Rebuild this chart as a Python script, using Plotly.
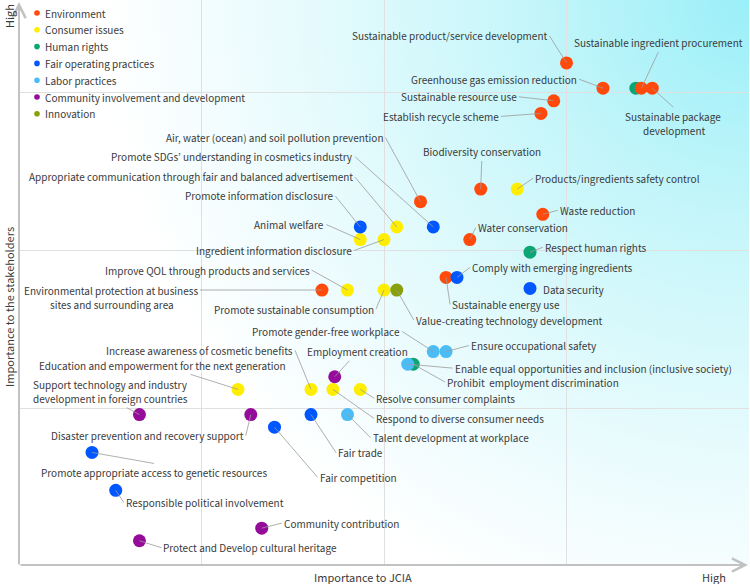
import base64
import plotly.graph_objects as go

# ---------------- data ----------------
categories = ["Environment", "Consumer issues", "Human rights", "Fair operating practices",
              "Labor practices", "Community involvement and development", "Innovation"]

env_names = ["Sustainable product/service development", "Greenhouse gas emission reduction",
             "Sustainable ingredient procurement", "Sustainable package development",
             "Sustainable resource use", "Establish recycle scheme",
             "Air, water (ocean) and soil pollution prevention", "Biodiversity conservation",
             "Waste reduction", "Water conservation", "Sustainable energy use",
             "Environmental protection at business sites and surrounding area"]
env_x = [3.00, 3.20, 3.41, 3.47, 2.93, 2.86, 2.20, 2.53, 2.87, 2.47, 2.34, 1.66]
env_y = [3.19, 3.03, 3.03, 3.03, 2.95, 2.87, 2.31, 2.39, 2.23, 2.07, 1.83, 1.75]

con_names = ["Products/ingredients safety control",
             "Appropriate communication through fair and balanced advertisement",
             "Animal welfare", "Ingredient information disclosure",
             "Improve QOL through products and services", "Promote sustainable consumption",
             "Education and empowerment for the next generation",
             "Increase awareness of cosmetic benefits", "Respond to diverse consumer needs",
             "Resolve consumer complaints"]
con_x = [2.73, 2.07, 1.87, 2.00, 1.80, 2.00, 1.20, 1.60, 1.72, 1.87]
con_y = [2.39, 2.15, 2.07, 2.07, 1.75, 1.75, 1.12, 1.12, 1.12, 1.12]

hr_names = ["", "Respect human rights", "Prohibit  employment discrimination"]
hr_x = [3.38, 2.80, 2.16]
hr_y = [3.03, 1.99, 1.28]

fop_names = ["Promote information disclosure",
             "Promote SDGs\u2019 understanding in cosmetics industry",
             "Comply with emerging ingredients", "Data security", "Fair trade",
             "Fair competition", "Promote appropriate access to genetic resources",
             "Responsible political involvement"]
fop_x = [1.87, 2.27, 2.40, 2.80, 1.60, 1.40, 0.40, 0.53]
fop_y = [2.15, 2.15, 1.83, 1.76, 0.96, 0.88, 0.72, 0.48]

lab_names = ["Promote gender-free workplace", "Ensure occupational safety",
             "Enable equal opportunities and inclusion (inclusive society)",
             "Talent development at workplace"]
lab_x = [2.27, 2.34, 2.13, 1.80]
lab_y = [1.36, 1.36, 1.28, 0.96]

com_names = ["Employment creation",
             "Support technology and industry development in foreign countries",
             "Disaster prevention and recovery support", "Community contribution",
             "Protect and Develop cultural heritage"]
com_x = [1.73, 0.66, 1.27, 1.33, 0.66]
com_y = [1.20, 0.96, 0.96, 0.24, 0.16]

inn_names = ["Value-creating technology development"]
inn_x = [2.07]
inn_y = [1.75]

x_title = "Importance to JCIA"
y_title = "Importance to the stakeholders"
high_label = "High"

# ---------------- styles / layout ----------------
colors = {
    "Environment": "#ff4a0c",
    "Consumer issues": "#ffee00",
    "Human rights": "#0ba673",
    "Fair operating practices": "#0056ff",
    "Labor practices": "#4cbcf5",
    "Community involvement and development": "#960c9a",
    "Innovation": "#88a00c",
}

series = {
    "Environment": (env_names, env_x, env_y),
    "Consumer issues": (con_names, con_x, con_y),
    "Human rights": (hr_names, hr_x, hr_y),
    "Fair operating practices": (fop_names, fop_x, fop_y),
    "Labor practices": (lab_names, lab_x, lab_y),
    "Community involvement and development": (com_names, com_x, com_y),
    "Innovation": (inn_names, inn_x, inn_y),
}
draw_order = ["Human rights", "Environment", "Consumer issues", "Fair operating practices",
              "Labor practices", "Community involvement and development", "Innovation"]

# label placement: list of text pieces per item:
# (text, dx, dy, xanchor, yanchor, leader_line) -- dx/dy pixel offset of anchor from dot
R, L, C = "right", "left", "center"
label_pos = {
    "Sustainable product/service development": [("Sustainable product/service development", -17, -27, R, "middle", True)],
    "Greenhouse gas emission reduction": [("Greenhouse gas emission reduction", -24, -9, R, "middle", True)],
    "Sustainable ingredient procurement": [("Sustainable ingredient procurement", 17, -36, C, "bottom", True)],
    "Sustainable package development": [("Sustainable package", 21, 19, C, "top", True),
                                        ("development", 22, 42, C, "middle", False)],
    "Sustainable resource use": [("Sustainable resource use", -35, -4, R, "middle", True)],
    "Establish recycle scheme": [("Establish recycle scheme", -40, 3, R, "middle", True)],
    "Air, water (ocean) and soil pollution prevention": [("Air, water (ocean) and soil pollution prevention", -35, -64, R, "middle", True)],
    "Biodiversity conservation": [("Biodiversity conservation", 1, -28, C, "bottom", True)],
    "Waste reduction": [("Waste reduction", 15, -4, L, "middle", True)],
    "Water conservation": [("Water conservation", 6, -12, L, "middle", True)],
    "Sustainable energy use": [("Sustainable energy use", 4, 27, L, "middle", True)],
    "Environmental protection at business sites and surrounding area": [
        ("Environmental protection at business", -122, 0, R, "middle", True),
        ("sites and surrounding area", -210, 14, C, "middle", False)],
    "Products/ingredients safety control": [("Products/ingredients safety control", 16, -11, L, "middle", True)],
    "Appropriate communication through fair and balanced advertisement": [("Appropriate communication through fair and balanced advertisement", -42, -50, R, "middle", True)],
    "Animal welfare": [("Animal welfare", -34, -15, R, "middle", True)],
    "Ingredient information disclosure": [("Ingredient information disclosure", -30, 11, R, "middle", True)],
    "Improve QOL through products and services": [("Improve QOL through products and services", -36, -20, R, "middle", True)],
    "Promote sustainable consumption": [("Promote sustainable consumption", -8, 19, R, "middle", True)],
    "Education and empowerment for the next generation": [("Education and empowerment for the next generation", -76, -24, C, "middle", True)],
    "Increase awareness of cosmetic benefits": [("Increase awareness of cosmetic benefits", -16, -39, R, "middle", True)],
    "Respond to diverse consumer needs": [("Respond to diverse consumer needs", 41, 29, L, "middle", True)],
    "Resolve consumer complaints": [("Resolve consumer complaints", 14, 9, L, "middle", True)],
    "Respect human rights": [("Respect human rights", 13, -5, L, "middle", True)],
    "Prohibit  employment discrimination": [("Prohibit  employment discrimination", 32, 18, L, "middle", True)],
    "Promote information disclosure": [("Promote information disclosure", -25, -31, R, "middle", True)],
    "Promote SDGs\u2019 understanding in cosmetics industry": [("Promote SDGs\u2019 understanding in cosmetics industry", -78, -70, R, "middle", True)],
    "Comply with emerging ingredients": [("Comply with emerging ingredients", 13, -10, L, "middle", True)],
    "Data security": [("Data security", 11, 1, L, "middle", False)],
    "Fair trade": [("Fair trade", 25, 38, L, "middle", True)],
    "Fair competition": [("Fair competition", 43, 50, L, "middle", True)],
    "Promote appropriate access to genetic resources": [("Promote appropriate access to genetic resources", 62, 11, C, "top", True)],
    "Responsible political involvement": [("Responsible political involvement", 8, 12, L, "middle", True)],
    "Promote gender-free workplace": [("Promote gender-free workplace", -31, -20, R, "middle", True)],
    "Ensure occupational safety": [("Ensure occupational safety", 23, -6, L, "middle", True)],
    "Enable equal opportunities and inclusion (inclusive society)": [("Enable equal opportunities and inclusion (inclusive society)", 45, 4, L, "middle", True)],
    "Talent development at workplace": [("Talent development at workplace", 23, 23, L, "middle", True)],
    "Employment creation": [("Employment creation", 23, -25, C, "middle", True)],
    "Support technology and industry development in foreign countries": [
        ("Support technology and industry", -29, -30, C, "middle", False),
        ("development in foreign countries", -29, -16, C, "middle", True)],
    "Disaster prevention and recovery support": [("Disaster prevention and recovery support", -5, 21, R, "middle", True)],
    "Community contribution": [("Community contribution", 20, -5, L, "middle", True)],
    "Protect and Develop cultural heritage": [("Protect and Develop cultural heritage", 22, 7, L, "middle", True)],
    "Value-creating technology development": [("Value-creating technology development", 17, 30, L, "middle", True)],
}

FONT = "Noto Sans CJK KR, Noto Sans, sans-serif"
TXT = "#3a3a3a"
LBL_SIZE = 10
W, H = 750, 584
ML, MR, MT, MB = 19, 1, 0, 18
PW, PH = W - ML - MR, H - MT - MB
Y_UNIT = 157.7

fig = go.Figure()
for cat in draw_order:
    names, xs, ys = series[cat]
    fig.add_trace(go.Scatter(
        x=xs, y=ys, mode="markers", name=cat, text=names,
        marker=dict(size=13, color=colors[cat], line=dict(width=0)),
        hovertemplate="%{text}<extra>" + cat + "</extra>", showlegend=False,
        cliponaxis=False))

annotations = []
for cat in draw_order:
    names, xs, ys = series[cat]
    for n, xv, yv in zip(names, xs, ys):
        if not n:
            continue
        for txt, dx, dy, xa, ya, arrow in label_pos[n]:
            annotations.append(dict(
                x=xv, y=yv, xref="x", yref="y", text=txt,
                showarrow=True, ax=dx, ay=dy, arrowhead=0, arrowwidth=0.8,
                arrowcolor="#9a9a9a" if arrow else "rgba(0,0,0,0)", standoff=0,
                xanchor=xa, yanchor=ya,
                font=dict(family=FONT, size=LBL_SIZE, color=TXT), align="center",
                borderpad=1))

# axis arrows
annotations.append(dict(x=0, y=1 - 2 / PH, xref="paper", yref="paper", text="",
                        showarrow=True, ax=0, ay=PH - 2, arrowhead=5, arrowsize=1.3,
                        arrowwidth=2, arrowcolor="#c2c2c2", standoff=0))
annotations.append(dict(x=(748 - ML) / PW, y=1 / PH, xref="paper", yref="paper", text="",
                        showarrow=True, ax=-(748 - ML), ay=0, arrowhead=5, arrowsize=1.3,
                        arrowwidth=2, arrowcolor="#c2c2c2", standoff=0))

# axis titles
tfont = dict(family=FONT, size=11, color=TXT)
annotations.append(dict(x=(363 - ML) / PW, y=-11 / PH, xref="paper", yref="paper",
                        text=x_title, showarrow=False, xanchor="center", yanchor="middle",
                        font=tfont))
annotations.append(dict(x=(714 - ML) / PW, y=-11 / PH, xref="paper", yref="paper",
                        text=high_label, showarrow=False, xanchor="center", yanchor="middle",
                        font=tfont))
annotations.append(dict(x=-10 / PW, y=1 - 16 / PH, xref="paper", yref="paper",
                        text=high_label, showarrow=False, textangle=-90,
                        xanchor="center", yanchor="middle", font=tfont))
annotations.append(dict(x=-10 / PW, y=1 - 307 / PH, xref="paper", yref="paper",
                        text=y_title, showarrow=False, textangle=-90,
                        xanchor="center", yanchor="middle", font=tfont))

# manual legend (small dots + text)
shapes = []
legend_order = ["Environment", "Consumer issues", "Human rights", "Fair operating practices",
                "Labor practices", "Community involvement and development", "Innovation"]
for i, cat in enumerate(legend_order):
    ypx = 13 + i * 16.8
    yp = 1 - ypx / PH
    xp = (37 - ML) / PW
    shapes.append(dict(type="circle", xref="paper", yref="paper", xsizemode="pixel",
                       ysizemode="pixel", xanchor=xp, yanchor=yp, x0=-2.8, x1=2.8,
                       y0=-2.8, y1=2.8, fillcolor=colors[cat], line=dict(width=0)))
    annotations.append(dict(x=(43 - ML) / PW, y=yp, xref="paper", yref="paper", text=cat,
                            showarrow=False, xanchor="left", yanchor="middle",
                            font=dict(family=FONT, size=LBL_SIZE, color=TXT)))

# background gradient (radial from top-right corner)
svg = (f'<svg xmlns="http://www.w3.org/2000/svg" width="{PW}" height="{PH}" '
       f'viewBox="0 0 {PW} {PH}" preserveAspectRatio="none">'
       f'<defs><radialGradient id="g" gradientUnits="userSpaceOnUse" cx="{PW}" cy="0" r="760">'
       '<stop offset="0" stop-color="#9aeff8"/>'
       '<stop offset="0.3" stop-color="#c6f6fa"/>'
       '<stop offset="0.6" stop-color="#e8fbfd"/>'
       '<stop offset="0.85" stop-color="#ffffff"/>'
       '<stop offset="1" stop-color="#ffffff"/>'
       '</radialGradient></defs>'
       f'<rect x="0" y="0" width="{PW}" height="{PH}" fill="url(#g)"/></svg>')
svg_uri = "data:image/svg+xml;base64," + base64.b64encode(svg.encode()).decode()

fig.update_layout(
    width=W, height=H,
    margin=dict(l=ML, r=MR, t=MT, b=MB),
    paper_bgcolor="white", plot_bgcolor="rgba(0,0,0,0)",
    showlegend=False,
    xaxis=dict(range=[0, 4], tickvals=[1, 2, 3], showticklabels=False, showgrid=True,
               gridcolor="#e0e0e0", gridwidth=1, zeroline=False, showline=False, ticks="",
               fixedrange=True),
    yaxis=dict(range=[0, PH / Y_UNIT], tickvals=[1, 2, 3], showticklabels=False,
               showgrid=True, gridcolor="#e0e0e0", gridwidth=1, zeroline=False,
               showline=False, ticks="", fixedrange=True),
    images=[dict(source=svg_uri, xref="paper", yref="paper", x=0, y=1, sizex=1, sizey=1,
                 sizing="stretch", layer="below", xanchor="left", yanchor="top")],
    annotations=annotations,
    shapes=shapes,
    font=dict(family=FONT, color=TXT),
)

fig.write_html("out.html", config={"displayModeBar": False},
               post_script="document.body.style.margin='0';document.body.style.padding='0';")
